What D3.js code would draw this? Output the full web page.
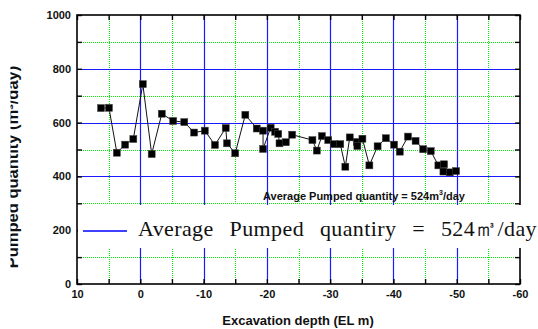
<!DOCTYPE html>
<html>
<head>
<meta charset="utf-8">
<script src="https://cdn.jsdelivr.net/npm/d3@7"></script>
<style>
  body { margin: 0; background: #fff; }
  svg { display: block; }
  .tick-label { font-family: "Liberation Sans", Arial, sans-serif; font-weight: bold; font-size: 11px; fill: #111; }
</style>
</head>
<body>
<svg id="chart" width="538" height="329"></svg>
<script>
// excavation depth (EL m) and pumped quantity (m3/day), in drawing order
const depth = [6.2, 4.95, 3.7, 2.4, 1.1, -0.4, -1.8, -3.4, -5.2, -6.95,
    -8.5, -10.2, -11.8, -13.5, -13.7, -15.0, -16.6, -18.4, -19.4, -19.4,
    -20.6, -21.3, -21.8, -22.0, -23.0, -24.0, -27.2, -27.9, -28.7, -29.7,
    -30.6, -31.6, -32.4, -33.1, -34.2, -34.3, -35.1, -36.2, -37.5, -38.8,
    -40.1, -41.0, -42.3, -43.5, -44.7, -45.9, -47.1, -48.0, -47.9, -48.9, -49.9];
const pumped = [654, 655, 488, 518, 539, 743, 483, 633, 606, 602,
    563, 570, 517, 580, 523, 486, 629, 578, 570, 502,
    581, 566, 558, 523, 527, 555, 535, 496, 550, 535,
    520, 520, 436, 545, 528, 513, 540, 441, 512, 542,
    518, 492, 548, 532, 501, 494, 441, 445, 418, 415, 420];

const xMajor = [10, 0, -10, -20, -30, -40, -50, -60];
const xMinor = [5, -5, -15, -25, -35, -45, -55];
const yMajor = [0, 200, 400, 600, 800, 1000];
const yMinor = [100, 300, 500, 700, 900];

const avgLabel = "Average Pumped quantity = 524m";
const legendLabel = "Average Pumped quantiry = 524㎥/day";

const svg = d3.select("#chart");
const pLeft = 77, pRight = 520, pTop = 15, pBottom = 284;

const x = d3.scaleLinear().domain([10, -60]).range([pLeft, pRight]);
const y = d3.scaleLinear().domain([0, 1000]).range([pBottom, pTop]);
const px = v => Math.round(v) + 0.5;

// grid
const grid = svg.append("g");
grid.selectAll(".gx").data(xMinor).join("line")
    .attr("x1", d => px(x(d))).attr("x2", d => px(x(d)))
    .attr("y1", pTop).attr("y2", pBottom)
    .attr("stroke", "#00ee00").attr("stroke-dasharray", "1,1");
grid.selectAll(".gy").data(yMinor).join("line")
    .attr("y1", d => px(y(d))).attr("y2", d => px(y(d)))
    .attr("x1", pLeft).attr("x2", pRight)
    .attr("stroke", "#00ee00").attr("stroke-dasharray", "1,1");
grid.selectAll(".bx").data(xMajor.slice(1, -1)).join("line")
    .attr("x1", d => px(x(d))).attr("x2", d => px(x(d)))
    .attr("y1", pTop).attr("y2", pBottom)
    .attr("stroke", "#1a1aff").attr("stroke-width", 1.2);
grid.selectAll(".by").data(yMajor.slice(1, -1)).join("line")
    .attr("y1", d => px(y(d))).attr("y2", d => px(y(d)))
    .attr("x1", pLeft).attr("x2", pRight)
    .attr("stroke", "#1a1aff").attr("stroke-width", 1.2);

// axes with inward ticks
const allX = xMajor.concat(xMinor), allY = yMajor.concat(yMinor);
function styleAxis(g) {
    g.select(".domain").remove();
    g.selectAll(".tick line").attr("stroke", "#000").attr("stroke-width", 1.4);
}
svg.append("g").attr("transform", `translate(0,${pBottom})`)
    .call(d3.axisBottom(x).tickValues(allX).tickSize(-5)
        .tickFormat(d => xMajor.includes(d) ? d : ""))
    .call(styleAxis)
    .selectAll("text").attr("class", "tick-label").attr("y", 6).attr("dy", "0.71em");
svg.append("g").attr("transform", `translate(0,${pTop})`)
    .call(d3.axisTop(x).tickValues(allX).tickSize(-5).tickFormat(""))
    .call(styleAxis);
svg.append("g").attr("transform", `translate(${pLeft},0)`)
    .call(d3.axisLeft(y).tickValues(allY).tickSize(-5)
        .tickFormat(d => yMajor.includes(d) ? d : ""))
    .call(styleAxis)
    .selectAll("text").attr("class", "tick-label").attr("x", -6);
svg.append("g").attr("transform", `translate(${pRight},0)`)
    .call(d3.axisRight(y).tickValues(allY).tickSize(-5).tickFormat(""))
    .call(styleAxis);

svg.append("rect")
    .attr("x", pLeft).attr("y", pTop)
    .attr("width", pRight - pLeft).attr("height", pBottom - pTop)
    .attr("fill", "none").attr("stroke", "#000").attr("stroke-width", 1.6);

// data
const pts = depth.map((d, i) => [d, pumped[i]]);
svg.append("path")
    .datum(pts)
    .attr("d", d3.line().x(d => x(d[0])).y(d => y(d[1])))
    .attr("fill", "none").attr("stroke", "#111").attr("stroke-width", 1);
svg.selectAll(".pt").data(pts).join("rect")
    .attr("x", d => x(d[0]) - 3.5).attr("y", d => y(d[1]) - 3.5)
    .attr("width", 7).attr("height", 7)
    .attr("fill", "#000").attr("stroke", "#444").attr("stroke-width", 0.5);

// annotation
const ann = svg.append("text")
    .attr("x", 263).attr("y", 200)
    .attr("font-family", "Liberation Sans, Arial, sans-serif")
    .attr("font-weight", "bold").attr("font-size", 11).attr("fill", "#111");
ann.append("tspan").text(avgLabel);
ann.append("tspan").attr("font-size", 7).attr("dy", -5).text("3");
ann.append("tspan").attr("dy", 5).text("/day");

// legend box
svg.append("rect")
    .attr("x", pLeft + 1).attr("y", 205).attr("width", 538 - pLeft).attr("height", 43)
    .attr("fill", "#fff");
svg.append("line")
    .attr("x1", 83).attr("x2", 127).attr("y1", 231).attr("y2", 231)
    .attr("stroke", "#0000ff").attr("stroke-width", 1.6);
const leg = svg.append("text")
    .attr("x", 138).attr("y", 236)
    .attr("font-family", "Liberation Serif, 'DejaVu Serif', serif")
    .attr("font-size", 22).attr("letter-spacing", 0.4).attr("fill", "#111")
    .text(legendLabel);
const len = leg.node().getComputedTextLength();
leg.attr("word-spacing", Math.max(0, (399 - len) / 4));

// axis titles (left title is cut off at the edge, as in the source)
svg.append("defs").append("clipPath").attr("id", "clipL")
    .append("rect").attr("x", 10.5).attr("y", 0).attr("width", 60).attr("height", 329);
svg.append("g").attr("clip-path", "url(#clipL)")
    .append("text")
    .attr("transform", "translate(17.5,167) rotate(-90)")
    .attr("text-anchor", "middle")
    .attr("font-family", "Liberation Sans, Arial, sans-serif")
    .attr("font-weight", "bold").attr("font-size", 16.5).attr("fill", "#111")
    .text("Pumped quantity (m³/day)");
svg.append("text")
    .attr("x", 298).attr("y", 325)
    .attr("text-anchor", "middle")
    .attr("font-family", "Liberation Sans, Arial, sans-serif")
    .attr("font-weight", "bold").attr("font-size", 13).attr("fill", "#111")
    .text("Excavation depth (EL m)");
</script>
</body>
</html>
